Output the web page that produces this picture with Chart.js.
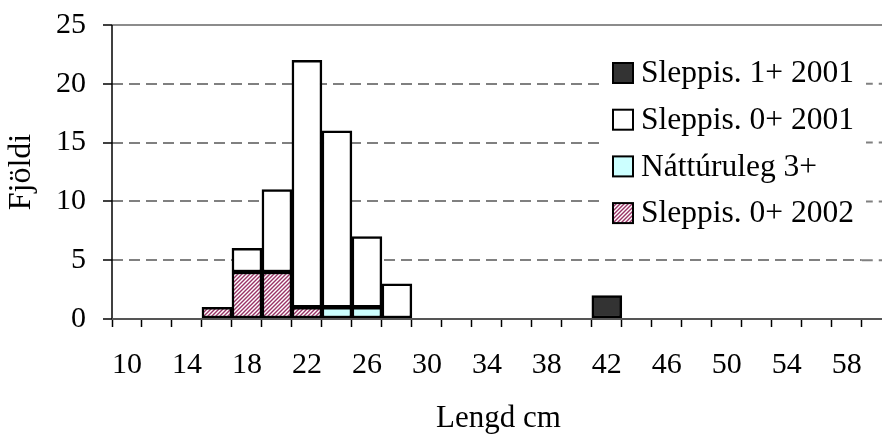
<!DOCTYPE html>
<html>
<head>
<meta charset="utf-8">
<script src="https://cdn.jsdelivr.net/npm/chart.js@4.4.0/dist/chart.umd.min.js"></script>
<style>
  html, body { margin: 0; padding: 0; background: #fff; }
  #contenedor { width: 882px; height: 437px; position: relative; }
</style>
</head>
<body>
<div id="contenedor"><canvas id="grafica"></canvas></div>
<script>
// Lengdarflokkar (cm), 2 cm bil
const lengdir = [10, 12, 14, 16, 18, 20, 22, 24, 26, 28, 30, 32, 34, 36, 38, 40, 42, 44, 46, 48, 50, 52, 54, 56, 58];
// Fjöldi í hverjum flokki
const sleppis02002 = [0, 0, 0, 1, 4, 4, 1, 0, 0, 0, 0, 0, 0, 0, 0, 0, 0, 0, 0, 0, 0, 0, 0, 0, 0];
const natturuleg3  = [0, 0, 0, 0, 0, 0, 0, 1, 1, 0, 0, 0, 0, 0, 0, 0, 0, 0, 0, 0, 0, 0, 0, 0, 0];
const sleppis02001 = [0, 0, 0, 0, 2, 7, 21, 15, 6, 3, 0, 0, 0, 0, 0, 0, 0, 0, 0, 0, 0, 0, 0, 0, 0];
const sleppis12001 = [0, 0, 0, 0, 0, 0, 0, 0, 0, 0, 0, 0, 0, 0, 0, 0, 2, 0, 0, 0, 0, 0, 0, 0, 0];
const yTicks = [0, 5, 10, 15, 20, 25];

const letur = "'Liberation Serif', 'Times New Roman', serif";
const strik = [11, 6];

// skástrikað mynstur
function mynstur() {
    const c = document.createElement('canvas');
    c.width = 4; c.height = 4;
    const g = c.getContext('2d');
    g.fillStyle = '#fff';
    g.fillRect(0, 0, 4, 4);
    g.strokeStyle = '#993366';
    g.lineWidth = 1.4;
    g.beginPath();
    g.moveTo(0, 4); g.lineTo(4, 0);
    g.moveTo(-1, 1); g.lineTo(1, -1);
    g.moveTo(3, 5); g.lineTo(5, 3);
    g.stroke();
    return g.createPattern(c, 'repeat');
}

// ása línur
const asar = {
    id: 'asar',
    beforeDatasetsDraw(chart) {
        const { ctx, chartArea: a } = chart;
        const y = chart.scales.y;
        ctx.save();
        // framlenging hjálparlína út að hægri brún
        ctx.strokeStyle = '#808080';
        ctx.lineWidth = 2;
        ctx.setLineDash(strik);
        yTicks.filter(v => v > 0 && v < 25).forEach(v => {
            const py = y.getPixelForValue(v);
            ctx.beginPath();
            ctx.moveTo(a.right, py);
            ctx.lineTo(chart.width, py);
            ctx.stroke();
        });
        ctx.setLineDash([]);
        ctx.strokeStyle = '#8c8c8c';
        ctx.beginPath();
        ctx.moveTo(a.left, a.top);
        ctx.lineTo(chart.width, a.top);
        ctx.stroke();
        ctx.restore();
    },
    afterDatasetsDraw(chart) {
        const { ctx, chartArea: a } = chart;
        ctx.save();
        ctx.strokeStyle = '#000';
        ctx.lineWidth = 1.5;
        ctx.beginPath();
        ctx.moveTo(a.left, a.top);
        ctx.lineTo(a.left, a.bottom);
        ctx.stroke();
        ctx.strokeStyle = '#555';
        ctx.lineWidth = 2;
        ctx.beginPath();
        ctx.moveTo(a.left, a.bottom);
        ctx.lineTo(chart.width, a.bottom);
        ctx.stroke();
        ctx.restore();
    }
};

// skýringar inni í teikningunni
const skyringar = {
    id: 'skyringar',
    afterDraw(chart) {
        const { ctx } = chart;
        const x0 = 604, y0 = 73, bil = 46.7;
        ctx.save();
        ctx.fillStyle = '#fff';
        ctx.fillRect(x0, y0 - 22, 262, bil * 3 + 44);
        const sets = chart.data.datasets.slice().reverse();
        sets.forEach((ds, i) => {
            const y = y0 + i * bil;
            ctx.fillStyle = ds.backgroundColor;
            ctx.fillRect(x0 + 9, y - 10, 20, 20);
            ctx.strokeStyle = '#000';
            ctx.lineWidth = 2;
            ctx.strokeRect(x0 + 9, y - 10, 20, 20);
            ctx.fillStyle = '#000';
            ctx.font = '31.5px ' + letur;
            ctx.textBaseline = 'middle';
            ctx.textAlign = 'left';
            ctx.fillText(ds.label, x0 + 37, y + 1);
        });
        ctx.restore();
    }
};

const ctx = document.getElementById('grafica').getContext('2d');

const rammi = { borderColor: '#000', borderWidth: 2.5, borderSkipped: false, barPercentage: 1, categoryPercentage: 1 };

new Chart(ctx, {
    type: 'bar',
    data: {
        labels: lengdir,
        datasets: [
            Object.assign({ label: 'Sleppis. 0+ 2002', data: sleppis02002, backgroundColor: mynstur() }, rammi),
            Object.assign({ label: 'Náttúruleg 3+', data: natturuleg3, backgroundColor: '#ccffff' }, rammi),
            Object.assign({ label: 'Sleppis. 0+ 2001', data: sleppis02001, backgroundColor: '#ffffff' }, rammi),
            Object.assign({ label: 'Sleppis. 1+ 2001', data: sleppis12001, backgroundColor: '#333333' }, rammi)
        ]
    },
    options: {
        responsive: true,
        maintainAspectRatio: false,
        animation: false,
        layout: { padding: { top: 25, left: 2, right: 12, bottom: 0 } },
        plugins: {
            legend: { display: false },
            tooltip: { enabled: false }
        },
        scales: {
            x: {
                stacked: true,
                offset: true,
                afterFit(scale) { scale.height = 118; },
                grid: { offset: true, drawOnChartArea: false, drawTicks: true, tickLength: 8, tickColor: '#000', tickWidth: 1.5 },
                border: { display: false },
                ticks: {
                    autoSkip: false,
                    maxRotation: 0,
                    padding: 20,
                    color: '#000',
                    font: { family: letur, size: 30 },
                    callback: (v, i) => (i % 2 === 0 ? lengdir[i] : '')
                },
                title: {
                    display: true,
                    text: '\u00a0\u00a0\u00a0Lengd cm',
                    color: '#000',
                    font: { family: letur, size: 31 },
                    padding: { top: 0, bottom: 0 }
                }
            },
            y: {
                stacked: true,
                min: 0,
                max: 25,
                afterFit(scale) {
                    scale.width = 110;
                    scale.paddingTop = 0;
                    scale.paddingBottom = 0;
                },
                afterBuildTicks(scale) { scale.ticks = yTicks.map(v => ({ value: v })); },
                grid: {
                    color: c => (c.tick && (c.tick.value === 0 || c.tick.value === 25)) ? 'rgba(0,0,0,0)' : '#808080',
                    lineWidth: 2,
                    tickLength: 9,
                    tickColor: '#000',
                    tickWidth: 1.5
                },
                border: { display: false, dash: strik },
                ticks: {
                    padding: 17,
                    color: '#000',
                    font: { family: letur, size: 30 }
                },
                title: {
                    display: true,
                    text: 'Fjöldi',
                    color: '#000',
                    font: { family: letur, size: 32 },
                    padding: { top: 0, bottom: 0 }
                }
            }
        }
    },
    plugins: [asar, skyringar]
});
</script>
</body>
</html>
